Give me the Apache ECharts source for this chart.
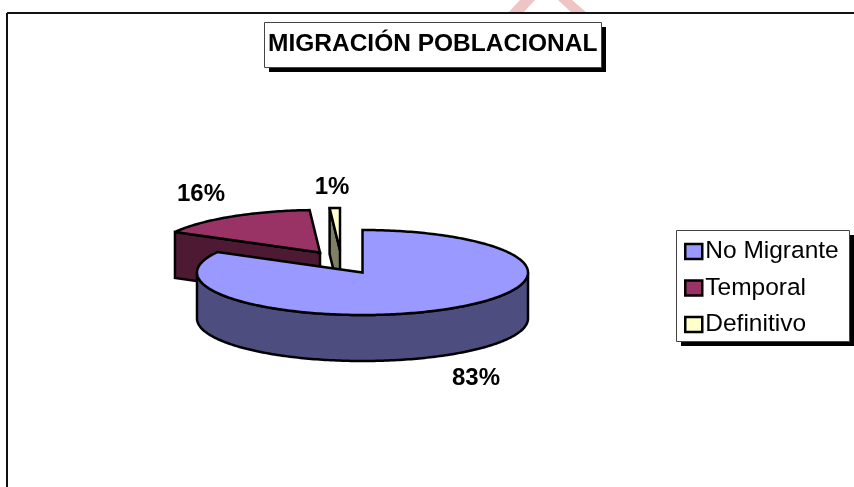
<!DOCTYPE html>
<html>
<head>
<meta charset="utf-8">
<script src="https://cdn.jsdelivr.net/npm/echarts@6/dist/echarts.min.js"></script>
<style>
  html, body { margin: 0; padding: 0; background: #fff; }
  #chart { width: 854px; height: 487px; }
</style>
</head>
<body>
<div id="chart"></div>
<script>
const categories = ['No Migrante', 'Temporal', 'Definitivo']
const values = [83, 16, 1]
const chartTitle = 'MIGRACIÓN POBLACIONAL'

const topColors = ['#9999ff', '#993366', '#ffffcc']
const sideColors = ['#4d4d80', '#4d1933', '#808066']
const FONT = '"Liberation Sans", Arial, sans-serif'

// pie geometry, 3d look is faked with an ellipse and a wall
const cx = 362.5, cy = 272.5, rx = 165.5, ry = 42.5, depth = 46
const explode = [[0, 0], [-42.5, -20], [-22.5, -22]] // slice offset
const labelPos = [[476, 378], [201, 194], [332, 187]]

const total = values.reduce((a, b) => a + b, 0)

function pt(ox, oy, deg, dy) {
    const a = deg * Math.PI / 180
    return [ox + rx * Math.sin(a), oy - ry * Math.cos(a) + (dy || 0)]
}
function arc(ox, oy, from, to, dy) {
    const pts = []
    const n = Math.max(2, Math.ceil(Math.abs(to - from)))
    for (let i = 0; i <= n; i++) pts.push(pt(ox, oy, from + (to - from) * i / n, dy))
    return pts
}

function sliceItem(idx, api) {
    const val = api.value(0)
    const before = values.slice(0, idx).reduce((a, b) => a + b, 0)
    const start = before / total * 360
    const end = start + val / total * 360
    const ox = cx + explode[idx][0]
    const oy = cy + explode[idx][1]
    const line = { stroke: '#000', lineWidth: 2.5, lineJoin: 'miter', miterLimit: 2 }
    const children = []

    // cut wall on the start edge, the first slice has it hidden
    if (idx > 0) {
        const p = pt(ox, oy, start)
        children.push({ type: 'polygon', shape: { points: [p, [ox, oy], [ox, oy + depth], [p[0], p[1] + depth]] },
            style: { fill: sideColors[idx], ...line } })
    }
    // outer wall, only the front half shows
    const wFrom = Math.max(start, 90)
    const wTo = Math.min(end, 270)
    if (wTo > wFrom) {
        const upper = arc(ox, oy, wFrom, wTo)
        const lower = arc(ox, oy, wTo, wFrom, depth)
        children.push({ type: 'polygon', shape: { points: upper.concat(lower) },
            style: { fill: sideColors[idx], ...line } })
    }
    // top face
    children.push({ type: 'polygon', shape: { points: [[ox, oy]].concat(arc(ox, oy, start, end)) },
        style: { fill: topColors[idx], ...line } })
    // percent label
    children.push({ type: 'text', x: labelPos[idx][0], y: labelPos[idx][1],
        style: { text: Math.round(val / total * 100) + '%', fill: '#000', align: 'center', verticalAlign: 'middle',
            font: 'bold 24px ' + FONT } })
    return { type: 'group', children }
}

// white box with a hard black shadow, for title and legend
function shadowBox(x, y, w, h) {
    return [
        { type: 'rect', z: 1, shape: { x: x + 5, y: y + 5, width: w, height: h }, style: { fill: '#000' } },
        { type: 'rect', z: 2, shape: { x: x + 0.5, y: y + 0.5, width: w, height: h }, style: { fill: '#fff', stroke: '#444', lineWidth: 1 } },
    ]
}

const myChart = echarts.init(document.getElementById('chart'), null, { renderer: 'canvas' })

const series = categories.map((name, i) => ({
    name,
    type: 'custom',
    coordinateSystem: 'none',
    z: 5 - i,
    itemStyle: { color: topColors[i] },
    data: [[values[i]]],
    renderItem: (params, api) => sliceItem(i, api),
}))

myChart.setOption({
    animation: false,
    backgroundColor: '#fff',
    title: {
        text: chartTitle,
        left: 268,
        top: 32,
        padding: 0,
        textStyle: { color: '#000', fontSize: 24.5, fontWeight: 'bold', fontFamily: FONT },
    },
    legend: {
        orient: 'vertical',
        left: 684,
        top: 239,
        data: categories,
        padding: 0,
        itemGap: 11.5,
        itemWidth: 17,
        itemHeight: 15,
        icon: 'rect',
        itemStyle: { borderColor: '#000', borderWidth: 2.5 },
        selectedMode: false,
        textStyle: { color: '#000', fontSize: 24.5, padding: [0, 0, 0, -2], fontFamily: FONT },
    },
    graphic: [
        { type: 'polygon', z: 0, shape: { points: [[520, 0], [535, 0], [523, 13], [508, 13]] }, style: { fill: '#eec4c4' } },
        { type: 'polygon', z: 0, shape: { points: [[558, 0], [572, 0], [587, 13], [572, 13]] }, style: { fill: '#eec4c4' } },
        { type: 'line', z: 1, shape: { x1: 7, y1: 13, x2: 854, y2: 13 }, style: { stroke: '#111', lineWidth: 2 } },
        { type: 'line', z: 1, shape: { x1: 7, y1: 13, x2: 7, y2: 487 }, style: { stroke: '#111', lineWidth: 2 } },
        ...shadowBox(264, 22, 337, 45),
        ...shadowBox(676, 230, 173, 111),
    ],
    series,
})
</script>
</body>
</html>
